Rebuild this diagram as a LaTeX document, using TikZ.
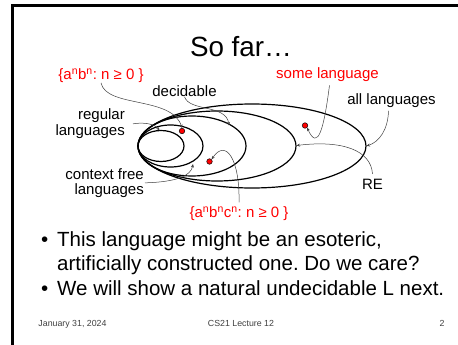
\documentclass[tikz,border=0pt]{standalone}
\usepackage{fontspec}
\setmainfont{Liberation Sans}
\frenchspacing
\usetikzlibrary{arrows.meta}
\definecolor{lblred}{RGB}{255,0,0}
\tikzset{
  lbl/.style={inner sep=0pt, font=\fontsize{15}{17}\selectfont, anchor=base},
  redlbl/.style={lbl, text=lblred},
  setell/.style={line width=1.2pt, black},
  conn/.style={line width=0.5pt, black!75, -{Stealth[length=3.5pt,width=3pt]}},
  reddot/.style={circle, fill=lblred, draw=black, line width=0.5pt, minimum size=5.5pt, inner sep=0pt},
  bullettext/.style={inner sep=0pt, anchor=base west, font=\fontsize{20.5}{24}\selectfont},
  foot/.style={inner sep=0pt, anchor=base, font=\fontsize{8.8}{10}\selectfont, text=black!75}
}
\begin{document}
\begin{tikzpicture}[x=1pt,y=-1pt]
\useasboundingbox (0,0) rectangle (458,345);
\fill[white] (0,0) rectangle (458,345);
% frame
\draw[line width=3pt] (458,5.5) -- (12.5,5.5) -- (12.5,345);
% title
\node[inner sep=0pt, anchor=base, font=\fontsize{27.8}{30}\selectfont] (title) at (241,57) {So far…};
% ellipses
\draw[setell] (252,146) ellipse [x radius=114, y radius=42];
\draw[setell] (217,146) ellipse [x radius=79, y radius=35];
\draw[setell] (192,146) ellipse [x radius=54, y radius=30];
\draw[setell] (170.5,146) ellipse [x radius=32.5, y radius=21];
\draw[setell] (161,146) ellipse [x radius=23, y radius=15.5];
% labels
\node[redlbl] (anbn) at (101,79.5) {\{a\textsuperscript{n}b\textsuperscript{n}: n ≥ 0 \}};
\node[lbl] (decid) at (184.5,96.5) {decidable};
\node[redlbl] (somel) at (327.5,79) {some language};
\node[lbl] (alll) at (391.5,104.5) {all languages};
\node[lbl, anchor=base east] (reg1) at (125,119.5) {regular};
\node[lbl, anchor=base east] (reg2) at (125,135.5) {languages};
\node[lbl, anchor=base east] (cf1) at (144,179.5) {context free};
\node[lbl, anchor=base east] (cf2) at (144,194.5) {languages};
\node[lbl] (re) at (372.5,189.5) {RE};
\node[redlbl] (anbncn) at (239,217.5) {\{a\textsuperscript{n}b\textsuperscript{n}c\textsuperscript{n}: n ≥ 0 \}};
% dots
\node[reddot] (d1) at (182,131) {};
\node[reddot] (d2) at (209.5,161.5) {};
\node[reddot] (d3) at (305,125.5) {};
% ellipse contact points
\coordinate (eDec) at (229,125.5);
\coordinate (eReg) at (159.5,130.5);
\coordinate (eCF) at (193,164);
\coordinate (eAll) at (366.5,146);
\coordinate (eRE) at (296.5,145.5);
% connectors
\draw[conn] (anbn.south) .. controls (106,108) and (172,96) .. (d1.north);
\draw[conn] (decid.south) .. controls (190,112) and (226,104) .. (eDec);
\draw[conn] (reg1.south east) ++(8,1) .. controls (144,122) and (155,124) .. (eReg);
\draw[conn] (cf1.south east) ++(1,3) .. controls (176,182) and (191,176) .. (eCF);
\draw[conn] (anbncn.north) ++(0,-4) .. controls (240,160) and (226,138) .. (d2.north east);
\draw[conn] (somel.south) ++(2,3) .. controls (324,128) and (318,152) .. (d3.south east);
\draw[conn] (alll.south) ++(-3,3) .. controls (388,130) and (379,142) .. (eAll);
\draw[conn] (re.north) ++(0,-5) .. controls (371,150) and (342,140) .. (eRE);
% bullets
\node[bullettext] (b1) at (41,246.5) {•};
\node[bullettext] (t1) at (57,246.5) {This language might be an esoteric,};
\node[bullettext] (t2) at (57,270.5) {artificially constructed one. Do we care?};
\node[bullettext] (b2) at (41,295) {•};
\node[bullettext] (t3) at (57,295) {We will show a natural undecidable L next.};
% footer
\node[foot] (f1) at (72.5,326) {January 31, 2024};
\node[foot] (f2) at (241,326) {CS21 Lecture 12};
\node[foot] (f3) at (442,326) {2};
\end{tikzpicture}
\end{document}
